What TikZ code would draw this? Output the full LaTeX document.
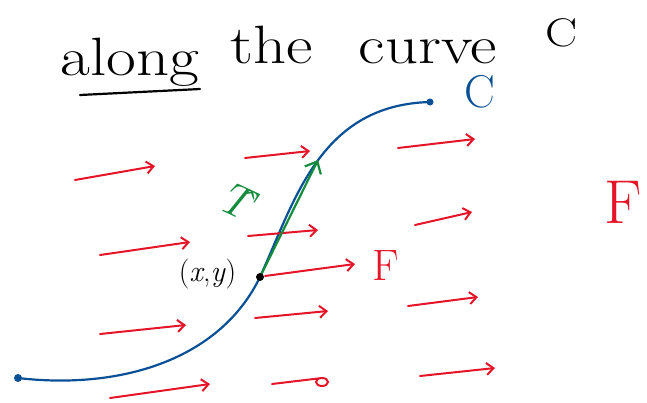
\documentclass[tikz,border=0pt]{standalone}
\usepackage{amsmath,amssymb}
\usetikzlibrary{arrows.meta}

\definecolor{curveblue}{RGB}{10,80,150}
\definecolor{fieldred}{RGB}{230,20,40}
\definecolor{tangreen}{RGB}{20,140,60}

\tikzset{
  field/.style={fieldred,line width=2pt,line cap=round,-{Straight Barb[length=7pt,width=12pt,line width=2pt]}},
  title/.style={font=\fontsize{54}{56}\selectfont,anchor=base,xscale=1.2}
}

\begin{document}
\begin{tikzpicture}[x=1pt,y=-1pt,thick]
  \useasboundingbox (0,0) rectangle (647,402);

  % Title
  \node[title] (wa) at (130,75) {along};
  \node[title] (wb) at (272,63) {the};
  \node[title] (wc) at (428,63) {curve};
  \node[title,font=\fontsize{40}{42}\selectfont] (wd) at (562,46) {C};
  \draw[line width=2.2pt,line cap=round] (80,95) -- (200,89);

  % The curve C
  \coordinate (c0) at (18,378);
  \coordinate (c1) at (430,102);
  \coordinate (p) at (260,277);
  \draw[curveblue,line width=2.2pt] (c0) .. controls (120,390) and (220,360) .. (p)
    .. controls (295,200) and (320,105) .. (c1);
  \fill[curveblue] (c0) circle (4pt);
  \fill[curveblue] (c1) circle (3.5pt);
  \node[curveblue,font=\fontsize{46}{48}\selectfont] (lc) at (480,92) {C};

  % Vector field F
  \coordinate (a1) at (75,180);   \coordinate (b1) at (155,166);
  \coordinate (a2) at (245,158);  \coordinate (b2) at (310,151);
  \coordinate (a3) at (398,148);  \coordinate (b3) at (475,139);
  \coordinate (a4) at (100,255);  \coordinate (b4) at (190,242);
  \coordinate (a5) at (248,236);  \coordinate (b5) at (318,230);
  \coordinate (a6) at (415,225);  \coordinate (b6) at (472,212);
  \coordinate (a7) at (265,276);  \coordinate (b7) at (355,264);
  \coordinate (a8) at (100,334);  \coordinate (b8) at (186,325);
  \coordinate (a9) at (255,318);  \coordinate (b9) at (328,311);
  \coordinate (a10) at (408,306); \coordinate (b10) at (478,297);
  \coordinate (a11) at (110,398); \coordinate (b11) at (210,384);
  \coordinate (a12) at (420,376); \coordinate (b12) at (495,368);
  \foreach \i in {1,...,12}
    \draw[field] (a\i) -- (b\i);
  \coordinate (a13) at (272,384);
  \coordinate (b13) at (322,378);
  \draw[fieldred,line width=2pt,line cap=round] (a13) -- (b13)
    arc[start angle=-90,end angle=270,x radius=6,y radius=4];
  \node[fieldred,font=\fontsize{44}{46}\selectfont] (lf) at (386,266) {F};
  \node[fieldred,font=\fontsize{62}{64}\selectfont] (bigf) at (623,202) {F};

  % Unit tangent at (x,y)
  \coordinate (q) at (318,160);
  \draw[tangreen,line width=2.2pt,line cap=round,-{Straight Barb[length=10pt,width=18pt,line width=2.2pt]}] (p) -- (q);
  \node[tangreen,font=\fontsize{46}{48}\selectfont\itshape,rotate=-25,inner sep=0pt] (lt) at (236,200) {\^{T}};
  \fill (p) circle (4pt);
  \node[font=\fontsize{30}{32}\selectfont,anchor=east] (lp) at (240,274) {(\textit{x},\textit{y})};
\end{tikzpicture}
\end{document}
